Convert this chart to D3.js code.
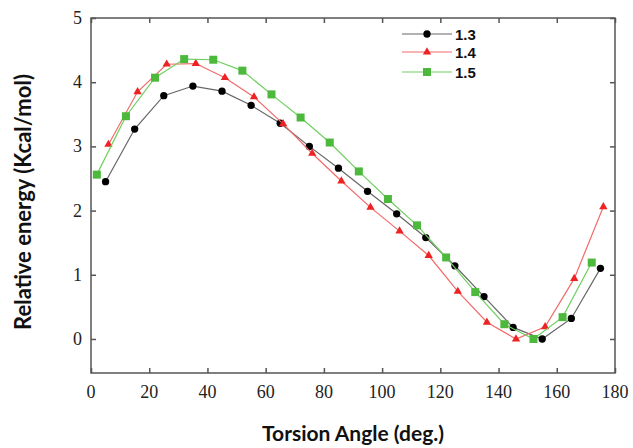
<!DOCTYPE html>
<html>
<head>
<meta charset="utf-8">
<script src="https://cdn.jsdelivr.net/npm/d3@7"></script>
<style>
  body { margin: 0; background: #fff; }
</style>
</head>
<body>
<div id="chart"></div>
<script>
// torsion angle (deg.) and relative energy for each series
var x13 = [5, 15, 25, 35, 45, 55, 65, 75, 85, 95, 105, 115, 125, 135, 145, 155, 165, 175];
var y13 = [2.45, 3.27, 3.79, 3.94, 3.86, 3.64, 3.36, 3.0, 2.66, 2.30, 1.95, 1.58, 1.14, 0.66, 0.18, 0.0, 0.32, 1.10];
var x14 = [6, 16, 26, 36, 46, 56, 66, 76, 86, 96, 106, 116, 126, 136, 146, 156, 166, 176];
var y14 = [3.03, 3.85, 4.28, 4.29, 4.07, 3.77, 3.35, 2.89, 2.46, 2.05, 1.68, 1.30, 0.74, 0.26, 0.0, 0.19, 0.94, 2.06];
var x15 = [2, 12, 22, 32, 42, 52, 62, 72, 82, 92, 102, 112, 122, 132, 142, 152, 162, 172];
var y15 = [2.56, 3.47, 4.07, 4.36, 4.35, 4.18, 3.81, 3.45, 3.06, 2.61, 2.18, 1.77, 1.27, 0.73, 0.23, 0.0, 0.34, 1.19];
var seriesNames = ["1.3", "1.4", "1.5"];
var xTicks = [0, 20, 40, 60, 80, 100, 120, 140, 160, 180];
var yTicks = [0, 1, 2, 3, 4, 5];

var W = 633, H = 448;
var plotL = 91, plotR = 615, plotT = 18, plotB = 373;

var svg = d3.select("#chart").append("svg")
  .attr("width", W).attr("height", H);

var x = d3.scaleLinear().domain([0, 180]).range([plotL, plotR]);
var y = d3.scaleLinear().domain([-0.53, 5]).range([plotB, plotT]);

// frame
var frameColor = "#555";
svg.append("rect")
  .attr("x", plotL).attr("y", plotT)
  .attr("width", plotR - plotL).attr("height", plotB - plotT)
  .attr("fill", "none").attr("stroke", frameColor).attr("stroke-width", 1.5);

// axes, ticks pointing inward
svg.append("g").attr("transform", `translate(0,${plotB})`)
  .call(d3.axisTop(x).tickValues(xTicks).tickSize(5).tickFormat(""));
svg.append("g").attr("transform", `translate(0,${plotT})`)
  .call(d3.axisBottom(x).tickValues(xTicks).tickSize(5).tickFormat(""));
svg.append("g").attr("transform", `translate(${plotL},0)`)
  .call(d3.axisRight(y).tickValues(yTicks).tickSize(5).tickFormat(""));
svg.append("g").attr("transform", `translate(${plotR},0)`)
  .call(d3.axisLeft(y).tickValues(yTicks).tickSize(5).tickFormat(""));
svg.selectAll(".domain").remove();
svg.selectAll(".tick line").attr("stroke", frameColor).attr("stroke-width", 1.5);

// tick labels
svg.append("g").selectAll("text")
  .data(xTicks).enter().append("text")
  .attr("x", d => x(d)).attr("y", 398)
  .attr("text-anchor", "middle")
  .attr("font-family", "Liberation Serif, serif").attr("font-size", 18)
  .attr("fill", "#222")
  .text(d => d);
svg.append("g").selectAll("text")
  .data(yTicks).enter().append("text")
  .attr("x", 82).attr("y", d => y(d) + 6)
  .attr("text-anchor", "end")
  .attr("font-family", "Liberation Serif, serif").attr("font-size", 18)
  .attr("fill", "#222")
  .text(d => d);

// axis titles
svg.append("text")
  .attr("x", (plotL + plotR) / 2).attr("y", 441)
  .attr("text-anchor", "middle")
  .attr("font-family", "Lato, sans-serif").attr("font-weight", "bold").attr("font-size", 21)
  .attr("fill", "#111")
  .text("Torsion Angle (deg.)");
svg.append("text")
  .attr("transform", "translate(31,202) rotate(-90)")
  .attr("text-anchor", "middle")
  .attr("font-family", "Lato, sans-serif").attr("font-weight", "bold").attr("font-size", 22)
  .attr("fill", "#111")
  .text("Relative energy (Kcal/mol)");

var series = [
  { name: seriesNames[0], xs: x13, ys: y13, line: "#666", mark: "#000", shape: d3.symbolCircle, size: 42 },
  { name: seriesNames[1], xs: x14, ys: y14, line: "#f26a6a", mark: "#ee2222", shape: d3.symbolTriangle, size: 30 },
  { name: seriesNames[2], xs: x15, ys: y15, line: "#6fcf5f", mark: "#4cb83c", shape: d3.symbolSquare, size: 64 }
];

var line = d3.line().x(d => x(d[0])).y(d => y(d[1]));

series.forEach(function(s) {
  var pts = s.xs.map((v, i) => [v, s.ys[i]]);
  svg.append("path")
    .attr("d", line(pts))
    .attr("fill", "none").attr("stroke", s.line).attr("stroke-width", 1.2);
  svg.append("g").selectAll("path")
    .data(pts).enter().append("path")
    .attr("transform", d => `translate(${x(d[0])},${y(d[1])})`)
    .attr("d", d3.symbol().type(s.shape).size(s.size))
    .attr("fill", s.mark);
});

// legend
var legY = [34, 52, 72];
series.forEach(function(s, i) {
  var g = svg.append("g").attr("transform", `translate(0,${legY[i]})`);
  g.append("line").attr("x1", 402).attr("x2", 452).attr("y1", 0).attr("y2", 0)
    .attr("stroke", s.line).attr("stroke-width", 1.2);
  g.append("path").attr("transform", "translate(427,0)")
    .attr("d", d3.symbol().type(s.shape).size(s.size)).attr("fill", s.mark);
  g.append("text").attr("x", 455).attr("y", 5.5)
    .attr("font-family", "Liberation Sans, Arial, sans-serif").attr("font-weight", "bold")
    .attr("font-size", 15).attr("fill", "#111")
    .text(s.name);
});
</script>
</body>
</html>
